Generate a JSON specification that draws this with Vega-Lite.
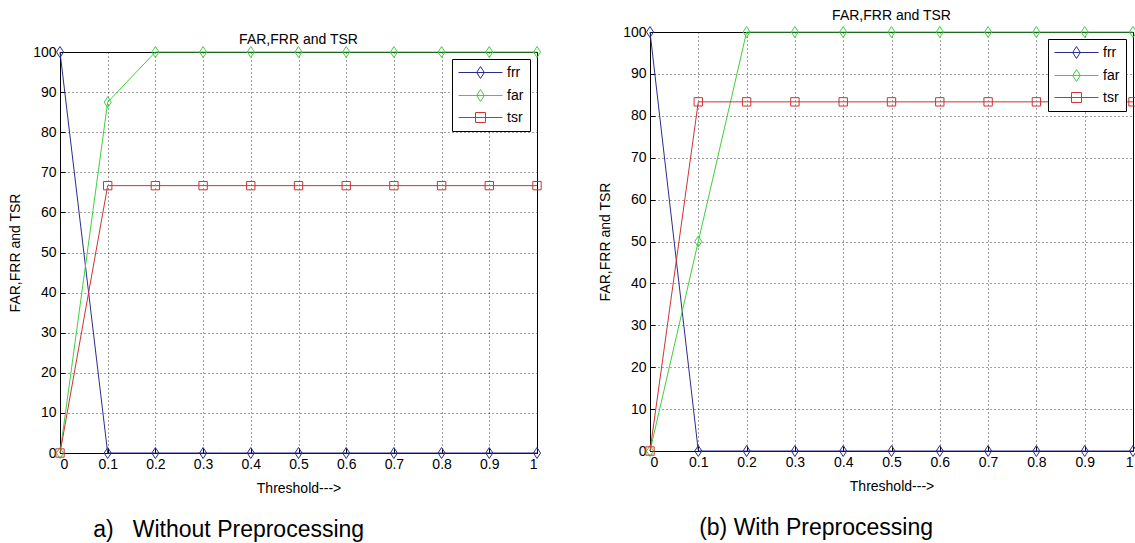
{
  "$schema": "https://vega.github.io/schema/vega-lite/v6.json",
  "background": "white",
  "padding": {"left": 8, "top": 8, "right": 0, "bottom": 0},
  "config": {
    "font": "Liberation Sans",
    "view": {"stroke": "black", "strokeWidth": 1},
    "axis": {
      "labelFont": "Liberation Sans", "labelFontSize": 14, "labelColor": "black",
      "titleFont": "Liberation Sans", "titleFontSize": 14, "titleFontWeight": "normal", "titleColor": "black",
      "domain": false, "grid": true, "gridColor": "black", "gridDash": [1, 3], "gridOpacity": 0.75,
      "tickColor": "black", "tickSize": -5, "labelPadding": 9
    },
    "legend": {
      "labelFont": "Liberation Sans", "labelFontSize": 14, "labelColor": "black",
      "strokeColor": "black", "fillColor": "white", "cornerRadius": 0,
      "padding": 6, "rowPadding": 6, "orient": "top-right", "offset": 7,
      "symbolSize": 196, "symbolOffset": 15, "labelOffset": 19, "symbolStrokeWidth": 1
    },
    "title": {"font": "Liberation Sans", "fontWeight": "normal", "color": "black", "fontSize": 14}
  },
  "datasets": {
    "a": [
      {"x": 0, "series": "frr", "y": 100}, {"x": 0.1, "series": "frr", "y": 0}, {"x": 0.2, "series": "frr", "y": 0}, {"x": 0.3, "series": "frr", "y": 0}, {"x": 0.4, "series": "frr", "y": 0}, {"x": 0.5, "series": "frr", "y": 0}, {"x": 0.6, "series": "frr", "y": 0}, {"x": 0.7, "series": "frr", "y": 0}, {"x": 0.8, "series": "frr", "y": 0}, {"x": 0.9, "series": "frr", "y": 0}, {"x": 1, "series": "frr", "y": 0},
      {"x": 0, "series": "far", "y": 0}, {"x": 0.1, "series": "far", "y": 87.5}, {"x": 0.2, "series": "far", "y": 100}, {"x": 0.3, "series": "far", "y": 100}, {"x": 0.4, "series": "far", "y": 100}, {"x": 0.5, "series": "far", "y": 100}, {"x": 0.6, "series": "far", "y": 100}, {"x": 0.7, "series": "far", "y": 100}, {"x": 0.8, "series": "far", "y": 100}, {"x": 0.9, "series": "far", "y": 100}, {"x": 1, "series": "far", "y": 100},
      {"x": 0, "series": "tsr", "y": 0}, {"x": 0.1, "series": "tsr", "y": 66.67}, {"x": 0.2, "series": "tsr", "y": 66.67}, {"x": 0.3, "series": "tsr", "y": 66.67}, {"x": 0.4, "series": "tsr", "y": 66.67}, {"x": 0.5, "series": "tsr", "y": 66.67}, {"x": 0.6, "series": "tsr", "y": 66.67}, {"x": 0.7, "series": "tsr", "y": 66.67}, {"x": 0.8, "series": "tsr", "y": 66.67}, {"x": 0.9, "series": "tsr", "y": 66.67}, {"x": 1, "series": "tsr", "y": 66.67}
    ],
    "b": [
      {"x": 0, "series": "frr", "y": 100}, {"x": 0.1, "series": "frr", "y": 0}, {"x": 0.2, "series": "frr", "y": 0}, {"x": 0.3, "series": "frr", "y": 0}, {"x": 0.4, "series": "frr", "y": 0}, {"x": 0.5, "series": "frr", "y": 0}, {"x": 0.6, "series": "frr", "y": 0}, {"x": 0.7, "series": "frr", "y": 0}, {"x": 0.8, "series": "frr", "y": 0}, {"x": 0.9, "series": "frr", "y": 0}, {"x": 1, "series": "frr", "y": 0},
      {"x": 0, "series": "far", "y": 0}, {"x": 0.1, "series": "far", "y": 50}, {"x": 0.2, "series": "far", "y": 100}, {"x": 0.3, "series": "far", "y": 100}, {"x": 0.4, "series": "far", "y": 100}, {"x": 0.5, "series": "far", "y": 100}, {"x": 0.6, "series": "far", "y": 100}, {"x": 0.7, "series": "far", "y": 100}, {"x": 0.8, "series": "far", "y": 100}, {"x": 0.9, "series": "far", "y": 100}, {"x": 1, "series": "far", "y": 100},
      {"x": 0, "series": "tsr", "y": 0}, {"x": 0.1, "series": "tsr", "y": 83.33}, {"x": 0.2, "series": "tsr", "y": 83.33}, {"x": 0.3, "series": "tsr", "y": 83.33}, {"x": 0.4, "series": "tsr", "y": 83.33}, {"x": 0.5, "series": "tsr", "y": 83.33}, {"x": 0.6, "series": "tsr", "y": 83.33}, {"x": 0.7, "series": "tsr", "y": 83.33}, {"x": 0.8, "series": "tsr", "y": 83.33}, {"x": 0.9, "series": "tsr", "y": 83.33}, {"x": 1, "series": "tsr", "y": 83.33}
    ]
  },
  "spacing": 54,
  "resolve": {"scale": {"color": "independent"}},
  "hconcat": [
    {
      "title": {"text": "a)\u00a0\u00a0\u00a0Without Preprocessing", "orient": "bottom", "fontSize": 23, "anchor": "start", "dx": 85, "offset": 23},
      "spacing": -24,
      "resolve": {"scale": {"color": "independent"}},
      "vconcat": [
        {"width": 477, "height": 0, "data": {"values": []}, "mark": "rect", "view": {"stroke": null}},
        {
          "width": 477, "height": 401,
          "title": {"text": "FAR,FRR and TSR", "offset": -2},
          "data": {"name": "a"},
          "encoding": {
            "x": {"field": "x", "type": "quantitative", "scale": {"domain": [0, 1], "nice": false, "zero": false}, "axis": {"values": [0, 0.1, 0.2, 0.3, 0.4, 0.5, 0.6, 0.7, 0.8, 0.9, 1], "format": ".1~f", "title": "Threshold--->", "titlePadding": 10}},
            "y": {"field": "y", "type": "quantitative", "scale": {"domain": [0, 100], "nice": false}, "axis": {"values": [0, 10, 20, 30, 40, 50, 60, 70, 80, 90, 100], "title": "FAR,FRR and TSR", "titlePadding": 10}},
            "color": {"field": "series", "type": "nominal", "scale": {"domain": ["frr", "far", "tsr"], "range": ["#2b2b8c", "#3fcf3f", "#cc3333"]}, "legend": {"title": null, "encode": {"symbols": {"update": {"shape": {"signal": "datum.value === 'tsr' ? 'M-3.14,0H3.14M-0.71,-0.71H0.71V0.71H-0.71Z' : 'M-3.14,0H3.14M0,-0.85L0.55,0L0,0.85L-0.55,0Z'"}, "fill": {"value": "transparent"}}}}}}
          },
          "layer": [
            {"mark": {"type": "line", "strokeWidth": 1}},
            {"transform": [{"filter": "datum.series !== 'tsr'"}], "mark": {"type": "point", "filled": false, "strokeWidth": 1, "opacity": 1, "shape": "M0,-1L0.64,0L0,1L-0.64,0Z", "size": 121}},
            {"transform": [{"filter": "datum.series === 'tsr'"}], "mark": {"type": "point", "filled": false, "strokeWidth": 1, "opacity": 1, "shape": "square", "size": 70}}
          ]
        }
      ]
    },
    {
      "title": {"text": "(b) With Preprocessing", "orient": "bottom", "fontSize": 23, "anchor": "start", "dx": 101, "offset": 23},
      "resolve": {"scale": {"color": "independent"}},
      "vconcat": [
        {
          "width": 483, "height": 419,
          "title": {"text": "FAR,FRR and TSR", "offset": 2},
          "data": {"name": "b"},
          "encoding": {
            "x": {"field": "x", "type": "quantitative", "scale": {"domain": [0, 1], "nice": false, "zero": false}, "axis": {"values": [0, 0.1, 0.2, 0.3, 0.4, 0.5, 0.6, 0.7, 0.8, 0.9, 1], "format": ".1~f", "title": "Threshold--->", "titlePadding": 10}},
            "y": {"field": "y", "type": "quantitative", "scale": {"domain": [0, 100], "nice": false}, "axis": {"values": [0, 10, 20, 30, 40, 50, 60, 70, 80, 90, 100], "title": "FAR,FRR and TSR", "titlePadding": 10}},
            "color": {"field": "series", "type": "nominal", "scale": {"domain": ["frr", "far", "tsr"], "range": ["#2b2b8c", "#3fcf3f", "#cc3333"]}, "legend": {"title": null, "encode": {"symbols": {"update": {"shape": {"signal": "datum.value === 'tsr' ? 'M-3.14,0H3.14M-0.71,-0.71H0.71V0.71H-0.71Z' : 'M-3.14,0H3.14M0,-0.85L0.55,0L0,0.85L-0.55,0Z'"}, "fill": {"value": "transparent"}}}}}}
          },
          "layer": [
            {"mark": {"type": "line", "strokeWidth": 1}},
            {"transform": [{"filter": "datum.series !== 'tsr'"}], "mark": {"type": "point", "filled": false, "strokeWidth": 1, "opacity": 1, "shape": "M0,-1L0.64,0L0,1L-0.64,0Z", "size": 121}},
            {"transform": [{"filter": "datum.series === 'tsr'"}], "mark": {"type": "point", "filled": false, "strokeWidth": 1, "opacity": 1, "shape": "square", "size": 70}}
          ]
        }
      ]
    }
  ]
}
